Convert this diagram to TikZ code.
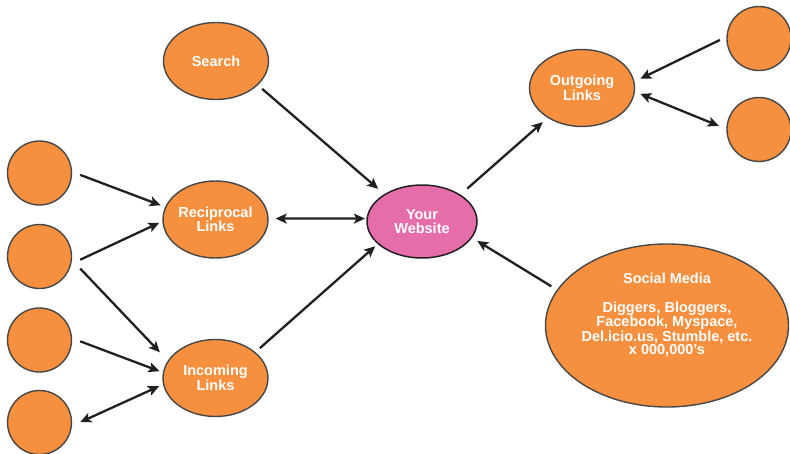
\documentclass[tikz,border=0pt]{standalone}
\usepackage{fontspec}
\setmainfont{Liberation Sans}
\usetikzlibrary{shapes.geometric,arrows.meta}
\definecolor{orng}{HTML}{F68F3E}
\definecolor{pnk}{HTML}{E46DAA}
\definecolor{bord}{HTML}{474747}
\definecolor{ink}{HTML}{231F20}
\tikzset{
  lab/.style={text=white,font=\bfseries\fontsize{14.5}{13.3}\selectfont,align=center},
  bub/.style={ellipse,draw=bord,fill=orng,line width=1.4pt,inner sep=0pt,lab},
  webbub/.style={ellipse,draw=ink,fill=pnk,line width=1.5pt,inner sep=0pt,lab},
  circ/.style={circle,draw=bord,fill=orng,line width=1.4pt,inner sep=0pt,minimum size=64pt},
  tip/.tip={Stealth[length=11pt,width=10pt,inset=2.5pt]},
  arr/.style={draw=ink,line width=2.3pt,-tip},
  darr/.style={draw=ink,line width=2.3pt,tip-tip}
}
\begin{document}
\begin{tikzpicture}[x=1pt,y=-1pt]
\useasboundingbox (0,0) rectangle (790,453);
\clip (0,0) rectangle (790,453);
% nodes
\node[bub,minimum width=105pt,minimum height=77pt] (search) at (216,61) {Search};
\node[bub,minimum width=105pt,minimum height=77pt] (rec) at (215.5,219.5) {Reciprocal\\Links};
\node[bub,minimum width=105pt,minimum height=77pt] (inc) at (215.5,378) {Incoming\\Links};
\node[webbub,minimum width=110pt,minimum height=73pt] (web) at (422,221.5) {Your\\Website};
\node[bub,minimum width=105pt,minimum height=77pt] (out) at (582,88) {Outgoing\\Links};
\node[bub,minimum width=243pt,minimum height=163pt] (sm) at (667,325.5) {};
\node[lab] (smtext) at ([yshift=10.5pt]sm.center) {Social Media\\[15pt]Diggers, Bloggers,\\Facebook, Myspace,\\Del.icio.us, Stumble, etc.\\x 000,000’s};
\node[circ] (c1) at (39.5,173) {};
\node[circ] (c2) at (39.5,256.5) {};
\node[circ] (c3) at (39.5,340) {};
\node[circ] (c4) at (39.5,422.5) {};
\node[circ] (cA) at (759,38.5) {};
\node[circ] (cB) at (759,129.5) {};
% connectors
\draw[arr,shorten <=8.6pt,shorten >=4.8pt] (c1.2) -- (rec.166.7);
\draw[arr,shorten <=9.8pt,shorten >=3.4pt] (c2.-13.5) -- (rec.182.3);
\draw[arr,shorten <=11.9pt,shorten >=11.5pt] (c2.-6.9) -- (inc.160.7);
\draw[arr,shorten <=8.6pt,shorten >=3.6pt] (c3.3.7) -- (inc.174.8);
\draw[darr,shorten <=9pt,shorten >=4.3pt] (c4.-6.7) -- (inc.187.9);
\draw[darr,shorten <=7pt,shorten >=1.5pt] (rec.1.5) -- (web.177.5);
\draw[arr,shorten <=5.6pt,shorten >=8pt] (search.-30.4) -- (web.144.9);
\draw[arr,shorten <=6pt,shorten >=3.3pt] (inc.33.8) -- (web.207.9);
\draw[arr,shorten <=9pt,shorten >=6.4pt] (web.35.9) -- (out.221.1);
\draw[arr,shorten <=7.2pt,shorten >=6.5pt] (cA.177.2) -- (out.7.9);
\draw[darr,shorten <=5.7pt,shorten >=8.1pt] (out.-4.2) -- (cB.179.2);
\draw[arr,shorten <=6.6pt,shorten >=6pt] (sm.162.4) -- (web.-18.1);
\end{tikzpicture}
\end{document}
